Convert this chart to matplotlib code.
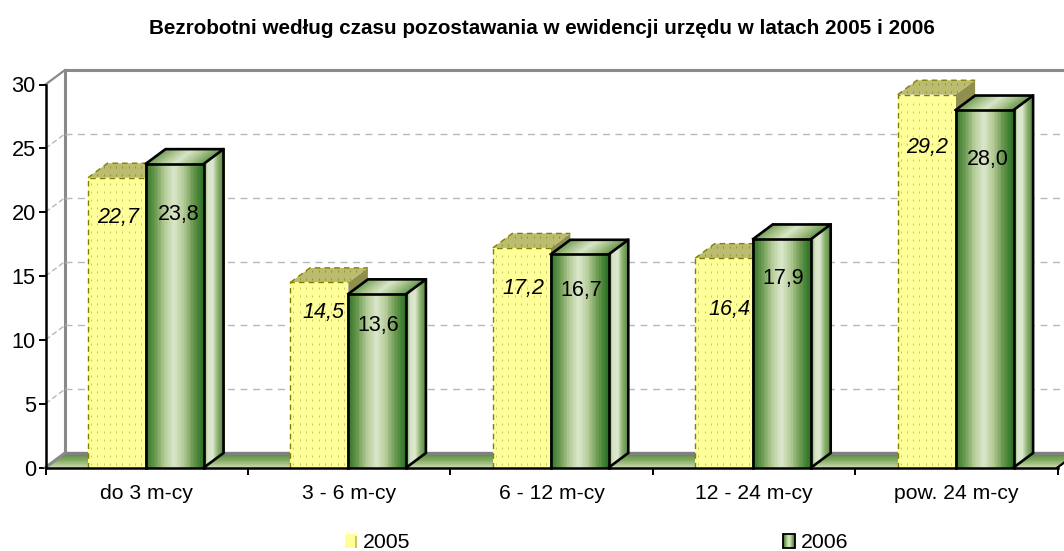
import numpy as np
import matplotlib
matplotlib.use("Agg")
import matplotlib.pyplot as plt
from matplotlib.colors import LinearSegmentedColormap
from matplotlib.legend_handler import HandlerBase
from matplotlib.patches import Polygon, Rectangle

title = "Bezrobotni według czasu pozostawania w ewidencji urzędu w latach 2005 i 2006"
categories = ["do 3 m-cy", "3 - 6 m-cy", "6 - 12 m-cy", "12 - 24 m-cy", "pow. 24 m-cy"]
values_2005 = [22.7, 14.5, 17.2, 16.4, 29.2]
values_2006 = [23.8, 13.6, 16.7, 17.9, 28.0]
labels_2005 = ["22,7", "14,5", "17,2", "16,4", "29,2"]
labels_2006 = ["23,8", "13,6", "16,7", "17,9", "28,0"]
yticks = [0, 5, 10, 15, 20, 25, 30]
series_names = ["2005", "2006"]

# label placement (px below the bar top, px right of the bar centre)
drop_2005 = [40, 30, 41, 51, 53]
drop_2006 = [51, 32, 36, 40, 49]
shift_2005 = [1, 4, 2, 5, 1]
shift_2006 = [4, 1, 1, 1, 3]

plt.rcParams["font.family"] = ["Liberation Sans", "DejaVu Sans"]
W, H = 1064, 551
L, R, T, B = 45.5, 1057.5, 84.5, 467.5
fig = plt.figure(figsize=(W / 100, H / 100), dpi=100, facecolor="white")
ax = fig.add_axes([L / W, 1 - B / H, (R - L) / W, (B - T) / H])
ax.set_xlim(0, 5)
ax.set_ylim(0, 30)
ax.patch.set_visible(False)
xpx = (R - L) / 5
ypx = (B - T) / 30
DX, DY = 19.5 / xpx, 14.5 / ypx
BAR = 58 / xpx
OFF = 42.5 / xpx

front = LinearSegmentedColormap.from_list("f", ["#2f7327", "#6b9a50", "#b4cb98", "#dbe7cc", "#b4cb98", "#6b9a50", "#2f7327"])
side = LinearSegmentedColormap.from_list("s", ["#6f9c58", "#d6e4c6", "#dde8cf", "#8fb272", "#5f9048"])
top = LinearSegmentedColormap.from_list("t", ["#6f9c58", "#a9c48c", "#d8e5c8", "#a9c48c", "#6f9c58"])
floorc = LinearSegmentedColormap.from_list("fl", ["#4f8a3a", "#85ab62", "#c8d9ae"])
N = 40
ramp = np.linspace(0, 1, N)[None, :]


def mesh(x0, x1, y0, y1, skew_x=0.0, skew_y=0.0, cmap=front, z=2):
    u = np.linspace(0, 1, N + 1)
    v = np.array([0.0, 1.0])
    U, V = np.meshgrid(u, v)
    X = x0 + (x1 - x0) * U + skew_x * V
    Y = y0 + (y1 - y0) * V + skew_y * U
    m = ax.pcolormesh(X, Y, ramp, cmap=cmap, vmin=0, vmax=1,
                      shading="flat", clip_on=False, zorder=z)
    m.set_edgecolor("face")
    m.set_linewidth(0.2)


def outline(pts, z, **kw):
    xs, ys_ = zip(*pts)
    ax.plot(xs, ys_, clip_on=False, zorder=z, solid_joinstyle="miter", solid_capstyle="projecting", **kw)


# walls
wall_c = "#8a8a8a"
ax.plot([DX, DX, 5 + DX], [DY, 30 + DY, 30 + DY], color=wall_c, lw=2.2, clip_on=False, zorder=1)
ax.plot([0, DX], [30, 30 + DY], color=wall_c, lw=1.6, clip_on=False, zorder=1)
for t in yticks[1:-1]:
    ax.plot([DX, 5 + DX], [t + DY, t + DY], color="#b8b8b8", lw=1.0, dashes=(5, 4), clip_on=False, zorder=1)
    ax.plot([0, DX], [t, t + DY], color="#b8b8b8", lw=1.0, dashes=(4, 2), clip_on=False, zorder=1)

# floor
ys = np.linspace(DY, 0, N + 1)
fx = np.array([DX * (y / DY) for y in ys])
X = np.vstack([fx, fx + 5]).T
Y = np.vstack([ys, ys]).T
ax.pcolormesh(X, Y, np.linspace(0, 1, N)[:, None], cmap=floorc, vmin=0, vmax=1, shading="flat", clip_on=False, zorder=1.5)
ax.plot([DX, 5 + DX], [DY, DY], color="#808080", lw=2.4, clip_on=False, zorder=1.6)
ax.plot([0, DX], [0, DY], color=wall_c, lw=2.2, clip_on=False, zorder=1.6)
ax.plot([5, 5 + DX], [0, DY], color="black", lw=1.6, clip_on=False, zorder=1.6)

# bars
for i, (a, b) in enumerate(zip(values_2005, values_2006)):
    x0 = i + OFF
    x1 = x0 + BAR
    x2 = x1 + BAR
    z = 3 + i * 0.1
    # 2005: yellow dotted, dashed olive outline
    ax.add_patch(Polygon([(x1, a), (x1 + DX, a + DY), (x1 + DX, 0), (x1, 0)], closed=True, fc="#8f8f4f", ec="none", zorder=z, clip_on=False))
    ax.add_patch(Polygon([(x0, a), (x0 + DX, a + DY), (x1 + DX, a + DY), (x1, a)], closed=True, fc="#bcbc6e", ec="none", zorder=z, clip_on=False))
    ax.add_patch(Rectangle((x0, 0), BAR, a, fc="#ffff99", ec="none", zorder=z, clip_on=False))
    gx = np.arange(x0 + 3 / xpx, x1 - 1 / xpx, 6.3 / xpx)
    gy = np.arange(0.3, a - 0.1, 8 / ypx)
    GX, GY = np.meshgrid(gx, gy)
    ax.scatter(GX.ravel(), GY.ravel(), s=1.5, color="#c4c468", marker="|", linewidths=0.7, zorder=z + 0.01, clip_on=False)
    tx = np.arange(x0 + 3 / xpx, x1 + DX - 1 / xpx, 6.3 / xpx)
    ty = np.arange(a + 3 / ypx, a + DY, 8 / ypx)
    TX, TY = np.meshgrid(tx, ty)
    keep = (TX - x0) / DX > (TY - a) / DY
    keep &= (TX - x1) / DX < (TY - a) / DY
    ax.scatter(TX[keep], TY[keep], s=1.5, color="#8f8f40", marker="|", linewidths=0.7, zorder=z + 0.01, clip_on=False)
    dash = dict(color="#808000", lw=1.0, ls=(0, (4, 3)))
    outline([(x0, 0), (x0, a), (x1, a)], z + 0.02, **dash)
    outline([(x0, a), (x0 + DX, a + DY), (x1 + DX, a + DY)], z + 0.02, **dash)
    ax.text(x0 + BAR / 2 + shift_2005[i] / xpx, a - drop_2005[i] / ypx, labels_2005[i], ha="center", va="center",
            fontsize=15.5, style="italic", color="black", zorder=6)

    # 2006: green gradient cylinder-like box with black edges
    z += 0.05
    mesh(x2, x2 + DX, 0, b, skew_y=DY, cmap=side, z=z)
    mesh(x1, x2, b, b + DY, skew_x=DX, cmap=top, z=z)
    mesh(x1, x2, 0, b, cmap=front, z=z)
    edge = dict(color="black", lw=1.9)
    outline([(x1, 0), (x1, b), (x2, b), (x2, 0)], z + 0.02, **edge)
    outline([(x1, b), (x1 + DX, b + DY), (x2 + DX, b + DY), (x2, b)], z + 0.02, **edge)
    outline([(x2, 0), (x2 + DX, DY), (x2 + DX, b + DY)], z + 0.02, **edge)
    ax.text(x1 + BAR / 2 + shift_2006[i] / xpx, b - drop_2006[i] / ypx, labels_2006[i], ha="center", va="center",
            fontsize=15.5, color="black", zorder=6)

# axes
for s in ("top", "right"):
    ax.spines[s].set_visible(False)
for s in ("left", "bottom"):
    ax.spines[s].set_linewidth(1.8)
    ax.spines[s].set_zorder(8)
ax.set_yticks(yticks)
ax.set_xticks(range(6))
ax.set_xticklabels([])
ax.set_xticks(np.arange(5) + 0.5, minor=True)
ax.set_xticklabels(categories, minor=True)
ax.tick_params(axis="y", length=5, width=1.4, labelsize=15.7, pad=2)
ax.tick_params(axis="x", which="major", length=5, width=1.4)
ax.tick_params(axis="x", which="minor", length=0, labelsize=15.2, pad=12)

fig.text(542 / W, 1 - 28.5 / H, title, ha="center", va="center", fontsize=14.9, fontweight="bold")


class Swatch(HandlerBase):
    def __init__(self, kind):
        super().__init__()
        self.kind = kind

    def create_artists(self, legend, orig, xd, yd, w, h, fs, trans):
        x0, y0 = -xd, -yd
        out = []
        if self.kind == "y":
            out.append(Rectangle((x0, y0), w, h, fc="#ffff99", ec="none", transform=trans))
            out.append(Rectangle((x0 + w * 0.8, y0), w * 0.2, h * 0.85, fc="#c9c96a", ec="none", transform=trans))
        else:
            n = 12
            for k in range(n):
                out.append(Rectangle((x0 + w * k / n, y0), w / n + 0.1, h, fc=front((k + 0.5) / n), ec="none", transform=trans))
            out.append(Rectangle((x0, y0), w, h, fc="none", ec="black", lw=1.3, transform=trans))
        return out


h1 = Rectangle((0, 0), 1, 1, label=series_names[0])
h2 = Rectangle((0, 0), 1, 1, label=series_names[1])
fig.legend(handles=[h1, h2], handler_map={h1: Swatch("y"), h2: Swatch("g")}, ncol=2, frameon=False,
           loc="center left", bbox_to_anchor=(345 / W, 1 - 543 / H), bbox_transform=fig.transFigure,
           borderaxespad=0, borderpad=0, fontsize=15.3, handlelength=0.58, handleheight=0.58, handletextpad=0.28,
           columnspacing=17.5)

fig.savefig("out.png", dpi=100)
